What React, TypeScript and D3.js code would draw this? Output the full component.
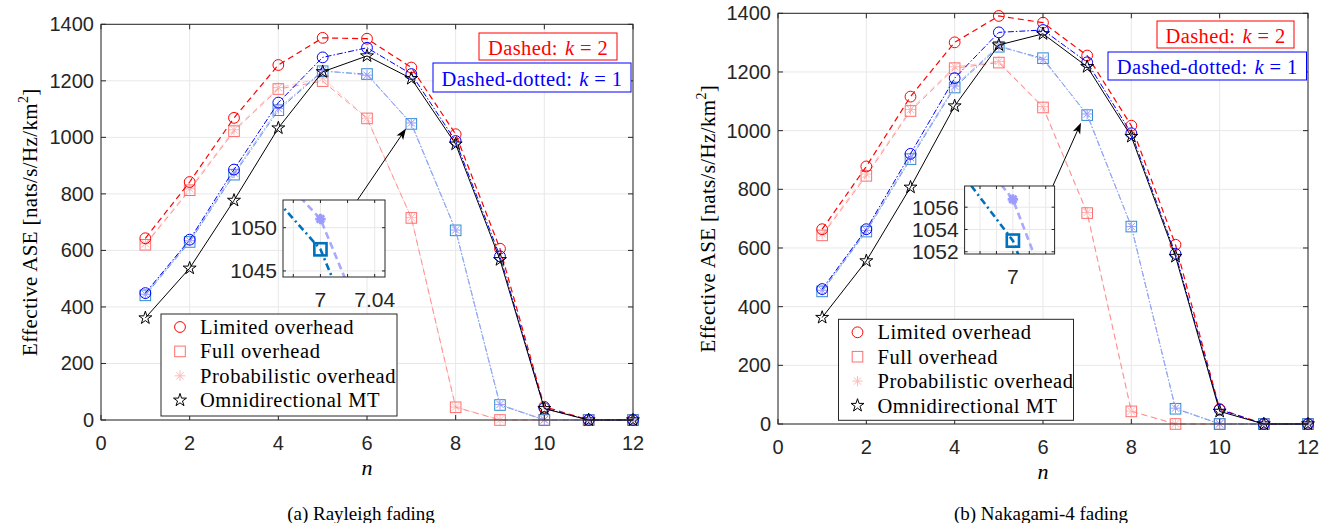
import * as d3 from "d3";

const nValues = [1, 2, 3, 4, 5, 6, 7, 8, 9, 10, 11, 12];
const xTicks = [0, 2, 4, 6, 8, 10, 12];
const yTicks = [0, 200, 400, 600, 800, 1000, 1200, 1400];

// (a) Rayleigh fading
const rayLimitedK2 = [643, 842, 1069, 1256, 1352, 1349, 1247, 1011, 606, 47, 0, 0];
const rayFullK2 = [620, 813, 1022, 1171, 1199, 1067, 715, 45, 0, 0, 0, 0];
const rayProbK2 = [624, 818, 1027, 1176, 1210, 1068, 716, 46, 1, 0, 0, 0];
const rayLimitedK1 = [449, 638, 886, 1123, 1283, 1317, 1224, 987, 579, 42, 0, 0];
const rayFullK1 = [441, 630, 868, 1096, 1234, 1224, 1047.5, 671, 53, 0, 0, 0];
const rayProbK1 = [445, 634, 874, 1102, 1236, 1220, 1051, 672, 55, 1, 0, 0];
const rayOmni = [361, 537, 777, 1033, 1232, 1288, 1208, 976, 567, 40, 0, 0];

// (b) Nakagami-4 fading
const nakLimitedK2 = [664, 878, 1116, 1301, 1391, 1368, 1256, 1017, 611, 51, 0, 0];
const nakFullK2 = [643, 846, 1067, 1213, 1232, 1079, 719, 43, 0, 0, 0, 0];
const nakProbK2 = [648, 852, 1072, 1218, 1236, 1082, 721, 44, 1, 0, 0, 0];
const nakLimitedK1 = [460, 664, 921, 1179, 1335, 1343, 1233, 991, 580, 49, 0, 0];
const nakFullK1 = [452, 656, 903, 1147, 1286, 1247, 1053, 673, 52, 0, 0, 0];
const nakProbK1 = [456, 660, 908, 1152, 1290, 1242, 1056.7, 673, 54, 1, 0, 0];
const nakOmni = [363, 556, 807, 1084, 1292, 1330, 1218, 980, 571, 43, 0, 0];

const legendLabels = ["Limited overhead", "Full overhead", "Probabilistic overhead", "Omnidirectional MT"];

const serif = "'Liberation Serif', 'Times New Roman', serif";
const sans = "'Liberation Sans', Arial, sans-serif";
const axisColor = "#262626";
const gridColor = "#e8e8e8";

type MarkerKind = "circle" | "square" | "asterisk" | "star";

type Series = {
  values: number[];
  line: string;
  marker: string;
  dash: string;
  kind: MarkerKind;
};

type InsetCfg = {
  x: number;
  y: number;
  w: number;
  h: number;
  xDomain: [number, number];
  yDomain: [number, number];
  xGrid: number[];
  xLabels: number[];
  yGrid: number[];
  arrowFrom: number;
  arrowTo: [number, number];
  full: number[];
  prob: number[];
};

type PanelCfg = {
  left: number;
  right: number;
  top: number;
  bottom: number;
  yLabelX: number;
  nLabelY: number;
  captionX: number;
  caption: string;
  series: Series[];
  legend: { x: number; y: number; w: number; h: number };
  redBox: { x: number; y: number; w: number; h: number };
  blueBox: { x: number; y: number; w: number; h: number };
  inset: InsetCfg;
};

const makeSeries = (
  limK2: number[],
  fullK2: number[],
  probK2: number[],
  limK1: number[],
  fullK1: number[],
  probK1: number[],
  omni: number[]
): Series[] => [
  { values: probK2, line: "#ffc6c6", marker: "#ffb8b8", dash: "6,4", kind: "asterisk" },
  { values: fullK2, line: "#ff9090", marker: "#ff6e6e", dash: "6,4", kind: "square" },
  { values: limK2, line: "#ff0000", marker: "#ff0000", dash: "6,4", kind: "circle" },
  { values: fullK1, line: "#5b9fdc", marker: "#2f8ad2", dash: "6,2,1.5,2", kind: "square" },
  { values: probK1, line: "#a7a7ff", marker: "#9a9aff", dash: "6,2,1.5,2", kind: "asterisk" },
  { values: limK1, line: "#0000ff", marker: "#0000ff", dash: "6,2,1.5,2", kind: "circle" },
  { values: omni, line: "#000000", marker: "#000000", dash: "", kind: "star" }
];

const panels: PanelCfg[] = [
  {
    left: 101,
    right: 633,
    top: 24.3,
    bottom: 420,
    yLabelX: 30,
    nLabelY: 467,
    captionX: 361,
    caption: "(a) Rayleigh fading",
    series: makeSeries(rayLimitedK2, rayFullK2, rayProbK2, rayLimitedK1, rayFullK1, rayProbK1, rayOmni),
    legend: { x: 161, y: 314, w: 236, h: 102 },
    redBox: { x: 479, y: 33, w: 138, h: 27 },
    blueBox: { x: 433, y: 63, w: 198, h: 29 },
    inset: {
      x: 283,
      y: 200,
      w: 102,
      h: 77,
      xDomain: [6.9724, 7.0476],
      yDomain: [1044.3, 1053.2],
      xGrid: [6.98, 7, 7.02, 7.04],
      xLabels: [7, 7.04],
      yGrid: [1045, 1050],
      arrowFrom: 0.73,
      arrowTo: [6.88, 1031],
      full: rayFullK1,
      prob: rayProbK1
    }
  },
  {
    left: 778,
    right: 1308,
    top: 13.3,
    bottom: 424,
    yLabelX: 708,
    nLabelY: 471,
    captionX: 1041,
    caption: "(b) Nakagami-4 fading",
    series: makeSeries(nakLimitedK2, nakFullK2, nakProbK2, nakLimitedK1, nakFullK1, nakProbK1, nakOmni),
    legend: { x: 838.5, y: 319.3, w: 235, h: 101 },
    redBox: { x: 1157, y: 21, w: 137, h: 27 },
    blueBox: { x: 1108, y: 52, w: 198.5, h: 28 },
    inset: {
      x: 964.6,
      y: 186,
      w: 90,
      h: 68,
      xDomain: [6.9706, 7.0254],
      yDomain: [1051.8, 1057.9],
      xGrid: [6.98, 6.99, 7, 7.01, 7.02],
      xLabels: [7],
      yGrid: [1052, 1054, 1056],
      arrowFrom: 0.98,
      arrowTo: [6.86, 1027],
      full: nakFullK1,
      prob: nakProbK1
    }
  }
];

const starPath = d3.symbol(d3.symbolStar, 52)() ?? "";

function asteriskPath(r: number) {
  const d = r * Math.SQRT1_2;
  return `M${-r},0L${r},0M0,${-r}L0,${r}M${-d},${-d}L${d},${d}M${-d},${d}L${d},${-d}`;
}

function Marker({ kind, x, y, color, size = 1, width = 1 }: {
  kind: MarkerKind;
  x: number;
  y: number;
  color: string;
  size?: number;
  width?: number;
}) {
  const t = `translate(${x},${y}) scale(${size})`;
  if (kind === "circle") {
    return <circle cx={x} cy={y} r={5.4 * size} fill="none" stroke={color} strokeWidth={width} />;
  }
  if (kind === "square") {
    const s = 10.6 * size;
    return <rect x={x - s / 2} y={y - s / 2} width={s} height={s} fill="none" stroke={color} strokeWidth={width} />;
  }
  if (kind === "asterisk") {
    return <path transform={t} d={asteriskPath(5.2)} fill="none" stroke={color} strokeWidth={width / size} />;
  }
  return <path transform={t} d={starPath} fill="none" stroke={color} strokeWidth={width / size} strokeLinejoin="miter" />;
}

function Inset({ cfg, xMain, yMain, id }: {
  cfg: InsetCfg;
  xMain: d3.ScaleLinear<number, number>;
  yMain: d3.ScaleLinear<number, number>;
  id: string;
}) {
  const x = d3.scaleLinear().domain(cfg.xDomain).range([cfg.x, cfg.x + cfg.w]);
  const y = d3.scaleLinear().domain(cfg.yDomain).range([cfg.y + cfg.h, cfg.y]);
  const lineGen = d3
    .line<number>()
    .x((_, i) => x(nValues[i]))
    .y((d) => y(d));
  const bottom = cfg.y + cfg.h;
  const right = cfg.x + cfg.w;

  const ax = cfg.x + cfg.w * cfg.arrowFrom;
  const ay = cfg.y;
  const tx = xMain(cfg.arrowTo[0]);
  const ty = yMain(cfg.arrowTo[1]);
  const ang = Math.atan2(ty - ay, tx - ax);
  const hl = 11;
  const hw = 4;
  const bx = tx - hl * Math.cos(ang);
  const by = ty - hl * Math.sin(ang);
  const head = [
    [tx, ty],
    [bx + hw * Math.sin(ang), by - hw * Math.cos(ang)],
    [tx - hl * 0.75 * Math.cos(ang), ty - hl * 0.75 * Math.sin(ang)],
    [bx - hw * Math.sin(ang), by + hw * Math.cos(ang)]
  ]
    .map((p) => p.join(","))
    .join(" ");

  return (
    <g>
      <line x1={ax} y1={ay} x2={tx - hl * 0.7 * Math.cos(ang)} y2={ty - hl * 0.7 * Math.sin(ang)} stroke="#000" strokeWidth={1} />
      <polygon points={head} fill="#000" />
      <rect x={cfg.x} y={cfg.y} width={cfg.w} height={cfg.h} fill="#fff" />
      <clipPath id={id}>
        <rect x={cfg.x} y={cfg.y} width={cfg.w} height={cfg.h} />
      </clipPath>
      {cfg.xGrid.map((v) => (
        <line key={`gx${v}`} x1={x(v)} x2={x(v)} y1={cfg.y} y2={bottom} stroke={gridColor} />
      ))}
      {cfg.yGrid.map((v) => (
        <line key={`gy${v}`} x1={cfg.x} x2={right} y1={y(v)} y2={y(v)} stroke={gridColor} />
      ))}
      <g clipPath={`url(#${id})`}>
        <path d={lineGen(cfg.full) ?? ""} fill="none" stroke="#0072bd" strokeWidth={2.6} strokeDasharray="7,3.5,2,3.5" />
        <path d={lineGen(cfg.prob) ?? ""} fill="none" stroke="#a9a9ff" strokeWidth={2.6} strokeDasharray="7,4" />
        <Marker kind="square" x={x(7)} y={y(cfg.full[6])} color="#0072bd" size={1.15} width={2.6} />
        <Marker kind="asterisk" x={x(7)} y={y(cfg.prob[6])} color="#9c9cff" size={1.0} width={2.8} />
      </g>
      {cfg.xGrid.map((v) => (
        <g key={`tx${v}`}>
          <line x1={x(v)} x2={x(v)} y1={bottom} y2={bottom - 3} stroke={axisColor} />
          <line x1={x(v)} x2={x(v)} y1={cfg.y} y2={cfg.y + 3} stroke={axisColor} />
        </g>
      ))}
      {cfg.yGrid.map((v) => (
        <g key={`ty${v}`}>
          <line x1={cfg.x} x2={cfg.x + 3} y1={y(v)} y2={y(v)} stroke={axisColor} />
          <line x1={right} x2={right - 3} y1={y(v)} y2={y(v)} stroke={axisColor} />
          <text x={cfg.x - 6} y={y(v)} textAnchor="end" dominantBaseline="central" fontFamily={sans} fontSize={21} fill={axisColor}>
            {v}
          </text>
        </g>
      ))}
      {cfg.xLabels.map((v) => (
        <text key={`lx${v}`} x={x(v)} y={bottom + 22} textAnchor="middle" dominantBaseline="central" fontFamily={sans} fontSize={21} fill={axisColor}>
          {String(v)}
        </text>
      ))}
      <rect x={cfg.x} y={cfg.y} width={cfg.w} height={cfg.h} fill="none" stroke={axisColor} strokeWidth={1} />
    </g>
  );
}

function Panel({ cfg, id }: { cfg: PanelCfg; id: string }) {
  const x = d3.scaleLinear().domain([0, 12]).range([cfg.left, cfg.right]);
  const y = d3.scaleLinear().domain([0, 1400]).range([cfg.bottom, cfg.top]);
  const lineGen = d3
    .line<number>()
    .x((_, i) => x(nValues[i]))
    .y((d) => y(d));
  const midX = (cfg.left + cfg.right) / 2;
  const midY = (cfg.top + cfg.bottom) / 2;
  const legendKinds: { kind: MarkerKind; color: string }[] = [
    { kind: "circle", color: "#ff0000" },
    { kind: "square", color: "#ff6e6e" },
    { kind: "asterisk", color: "#ffbaba" },
    { kind: "star", color: "#000000" }
  ];

  return (
    <g>
      {/* grid */}
      {xTicks.map((t) => (
        <line key={`gx${t}`} x1={x(t)} x2={x(t)} y1={cfg.top} y2={cfg.bottom} stroke={gridColor} />
      ))}
      {yTicks.map((t) => (
        <line key={`gy${t}`} x1={cfg.left} x2={cfg.right} y1={y(t)} y2={y(t)} stroke={gridColor} />
      ))}

      {/* series */}
      {cfg.series.map((s, si) => (
        <g key={si}>
          <path
            d={lineGen(s.values) ?? ""}
            fill="none"
            stroke={s.line}
            strokeWidth={s.kind === "circle" && s.line === "#ff0000" ? 1.2 : 1}
            strokeDasharray={s.dash || undefined}
          />
          {s.values.map((v, i) => (
            <Marker key={i} kind={s.kind} x={x(nValues[i])} y={y(v)} color={s.marker} />
          ))}
        </g>
      ))}

      {/* axes box and ticks */}
      {xTicks.map((t) => (
        <g key={`tx${t}`}>
          <line x1={x(t)} x2={x(t)} y1={cfg.bottom} y2={cfg.bottom - 5} stroke={axisColor} />
          <line x1={x(t)} x2={x(t)} y1={cfg.top} y2={cfg.top + 5} stroke={axisColor} />
          <text x={x(t)} y={cfg.bottom + 23} textAnchor="middle" dominantBaseline="central" fontFamily={sans} fontSize={20} fill={axisColor}>
            {t}
          </text>
        </g>
      ))}
      {yTicks.map((t) => (
        <g key={`ty${t}`}>
          <line x1={cfg.left} x2={cfg.left + 5} y1={y(t)} y2={y(t)} stroke={axisColor} />
          <line x1={cfg.right} x2={cfg.right - 5} y1={y(t)} y2={y(t)} stroke={axisColor} />
          <text x={cfg.left - 7} y={y(t)} textAnchor="end" dominantBaseline="central" fontFamily={sans} fontSize={20} fill={axisColor}>
            {t}
          </text>
        </g>
      ))}
      <rect x={cfg.left} y={cfg.top} width={cfg.right - cfg.left} height={cfg.bottom - cfg.top} fill="none" stroke={axisColor} strokeWidth={1} />

      <Inset cfg={cfg.inset} xMain={x} yMain={y} id={`clip-${id}`} />

      {/* k boxes */}
      <rect x={cfg.redBox.x} y={cfg.redBox.y} width={cfg.redBox.w} height={cfg.redBox.h} fill="#fff" stroke="#ff0000" strokeWidth={1} />
      <text x={cfg.redBox.x + cfg.redBox.w / 2} y={cfg.redBox.y + cfg.redBox.h / 2 + 1} textAnchor="middle" dominantBaseline="central" fontFamily={serif} fontSize={20.5} letterSpacing={0.4} fill="#ff0000">
        Dashed:<tspan dx={7} fontStyle="italic">k</tspan>
        <tspan> = 2</tspan>
      </text>
      <rect x={cfg.blueBox.x} y={cfg.blueBox.y} width={cfg.blueBox.w} height={cfg.blueBox.h} fill="#fff" stroke="#0000ff" strokeWidth={1} />
      <text x={cfg.blueBox.x + cfg.blueBox.w / 2} y={cfg.blueBox.y + cfg.blueBox.h / 2 + 1} textAnchor="middle" dominantBaseline="central" fontFamily={serif} fontSize={20.5} letterSpacing={0.4} fill="#0000ff">
        Dashed-dotted:<tspan dx={7} fontStyle="italic">k</tspan>
        <tspan> = 1</tspan>
      </text>

      {/* legend */}
      <rect x={cfg.legend.x} y={cfg.legend.y} width={cfg.legend.w} height={cfg.legend.h} fill="#fff" stroke={axisColor} strokeWidth={1} />
      {legendLabels.map((label, i) => {
        const ly = cfg.legend.y + 13 + i * 24.4;
        return (
          <g key={label}>
            <Marker kind={legendKinds[i].kind} x={cfg.legend.x + 19} y={ly} color={legendKinds[i].color} />
            <text x={cfg.legend.x + 39} y={ly} dominantBaseline="central" fontFamily={serif} fontSize={20.5} letterSpacing={0.55} fill="#000">
              {label}
            </text>
          </g>
        );
      })}

      {/* axis labels */}
      <text
        transform={`translate(${cfg.yLabelX},${midY}) rotate(-90)`}
        textAnchor="middle"
        dominantBaseline="central"
        fontFamily={serif}
        fontSize={21}
        letterSpacing={0.35}
        fill="#000"
      >
        Effective ASE [nats/s/Hz/km<tspan dy={-7} fontSize={14}>2</tspan>
        <tspan dy={7}>]</tspan>
      </text>
      <text x={midX} y={cfg.nLabelY} textAnchor="middle" dominantBaseline="central" fontFamily={serif} fontStyle="italic" fontSize={22} fill="#000">
        n
      </text>
      <text x={cfg.captionX} y={513} textAnchor="middle" dominantBaseline="central" fontFamily={serif} fontSize={19} fill="#000">
        {cfg.caption}
      </text>
    </g>
  );
}

export default function App() {
  return (
    <svg
      width={1327}
      height={523}
      viewBox="0 0 1327 523"
      style={{ position: "absolute", left: 0, top: 0, background: "#fff" }}
    >
      {panels.map((p, i) => (
        <Panel key={i} cfg={p} id={`p${i}`} />
      ))}
    </svg>
  );
}
